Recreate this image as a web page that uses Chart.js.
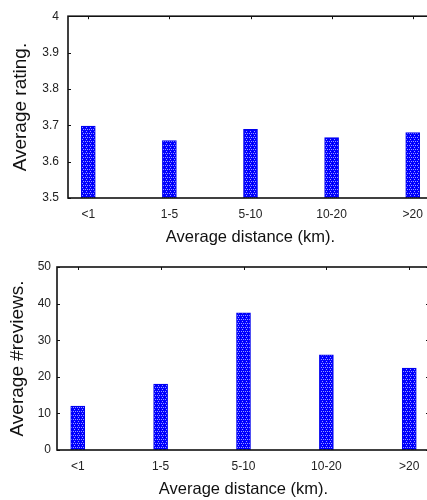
<!DOCTYPE html>
<html>
<head>
<meta charset="utf-8">
<script src="https://cdn.jsdelivr.net/npm/chart.js@4"></script>
<style>
  html, body { margin: 0; padding: 0; width: 427px; height: 500px; overflow: hidden; background: #fff; }
  canvas { position: absolute; left: 0; }
  #ratingChart { top: 0; }
  #reviewsChart { top: 250px; }
</style>
</head>
<body>
<canvas id="ratingChart" width="440" height="250"></canvas>
<canvas id="reviewsChart" width="440" height="250"></canvas>
<script>
const categories = ['<1', '1-5', '5-10', '10-20', '>20'];
const avgRating = [3.698, 3.658, 3.689, 3.666, 3.680];
const avgReviews = [12.0, 18.0, 37.5, 26.0, 22.4];

const fontFamily = "'Liberation Sans', Arial, sans-serif";

// gnuplot-ish dotted blue fill
function stipple() {
  const c = document.createElement('canvas');
  c.width = 4; c.height = 4;
  const g = c.getContext('2d');
  g.fillStyle = '#0000ff';
  g.fillRect(0, 0, 4, 4);
  g.fillStyle = '#9a9aff';
  g.fillRect(1, 1, 1, 1);
  g.fillRect(3, 1, 1, 1);
  g.fillRect(2, 3, 1, 1);
  return g.createPattern(c, 'repeat');
}

// box around the plot plus small inward ticks
const frameTicks = {
  id: 'frameTicks',
  afterDraw(chart) {
    const { ctx, chartArea: a, scales: { x, y } } = chart;
    const line = (x1, y1, x2, y2) => { ctx.beginPath(); ctx.moveTo(x1, y1); ctx.lineTo(x2, y2); ctx.stroke(); };
    ctx.save();
    ctx.strokeStyle = '#111';
    ctx.lineWidth = 1;
    y.ticks.forEach(t => {
      const py = Math.round(y.getPixelForValue(t.value)) + 0.5;
      line(a.left, py, a.left + 3, py);
      line(a.right, py, a.right - 4, py);
    });
    x.ticks.forEach(t => {
      const px = Math.round(x.getPixelForValue(t.value)) + 0.5;
      line(px, a.top, px, a.top + 3);
    });
    ctx.lineWidth = 1.6;
    ctx.strokeRect(a.left, a.top, a.right - a.left, a.bottom - a.top);
    ctx.restore();
  }
};

function makeChart(id, values, yTitle, yMin, yMax, yStep, box) {
  const ctx = document.getElementById(id).getContext('2d');
  return new Chart(ctx, {
    type: 'bar',
    data: {
      datasets: [{
        data: values.map((v, i) => ({ x: i, y: v })),
        backgroundColor: stipple(),
        borderColor: '#0000ee',
        borderWidth: 1,
        barThickness: 14
      }]
    },
    options: {
      responsive: false,
      animation: false,
      layout: { padding: { left: 0, right: box.right, top: box.top, bottom: 0 } },
      plugins: { legend: { display: false }, tooltip: { enabled: false } },
      scales: {
        x: {
          type: 'linear',
          min: -0.25,
          max: 4.25,
          offset: false,
          grid: { display: false, drawTicks: false, offset: false },
          border: { display: false },
          afterBuildTicks: s => { s.ticks = categories.map((_, i) => ({ value: i })); },
          afterFit: s => { s.height = box.xHeight; },
          ticks: {
            autoSkip: false,
            maxRotation: 0,
            padding: 9,
            color: '#222',
            font: { family: fontFamily, size: 12 },
            callback: v => categories[v]
          },
          title: {
            display: true,
            text: 'Average distance (km).',
            color: '#111',
            font: { family: fontFamily, size: 16.5 },
            padding: { top: 0, bottom: box.xTitlePad }
          }
        },
        y: {
          min: yMin,
          max: yMax,
          grid: { display: false, drawTicks: false },
          border: { display: false },
          afterFit: s => { s.width = box.left; },
          ticks: {
            stepSize: yStep,
            padding: box.yTickPad,
            color: '#222',
            font: { family: fontFamily, size: 12 },
            callback: v => String(+v.toFixed(2))
          },
          title: {
            display: true,
            text: yTitle,
            color: '#111',
            font: { family: fontFamily, size: 19 },
            padding: { top: box.yTitlePad, bottom: 0 }
          }
        }
      }
    },
    plugins: [frameTicks]
  });
}

makeChart('ratingChart', avgRating, 'Average rating.', 3.5, 4, 0.1,
  { left: 68, right: 7, top: 15, xHeight: 52, yTickPad: 9, yTitlePad: 9.5, xTitlePad: 3 });
makeChart('reviewsChart', avgReviews, 'Average #reviews.', 0, 50, 10,
  { left: 57, right: 10, top: 17, xHeight: 50, yTickPad: 6, yTitlePad: 6.5, xTitlePad: 1 });
</script>
</body>
</html>
